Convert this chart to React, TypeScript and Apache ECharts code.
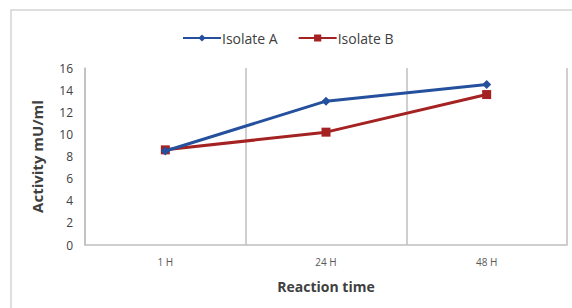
import React, { useEffect, useRef } from "react";
import * as echarts from "echarts";

const categories = ["1 H", "24 H", "48 H"];
const isolateA = [8.5, 13.0, 14.5];
const isolateB = [8.6, 10.2, 13.6];
const yTicks = { min: 0, max: 16, interval: 2 };

export default function App() {
  const ref = useRef<HTMLDivElement>(null);
  useEffect(() => {
    if (!ref.current) return;
    const chart = echarts.init(ref.current, undefined, { renderer: "svg" });
    const font = "'Open Sans', 'Liberation Sans', sans-serif";
    chart.setOption({
      animation: false,
      backgroundColor: "#ffffff",
      graphic: [
        {
          type: "rect",
          shape: { x: 11, y: 10, width: 580, height: 320 },
          style: { fill: "none", stroke: "#d4d4d4", lineWidth: 1.5 },
          silent: true,
        },
      ],
      legend: {
        top: 26,
        left: 177,
        itemWidth: 38,
        itemHeight: 9,
        itemGap: 20,
        textStyle: { fontFamily: font, fontSize: 14, color: "#404040", padding: [0, 0, 0, -4] },
        data: ["Isolate A", "Isolate B"],
      },
      grid: { left: 85, right: 5, top: 68, bottom: 63, containLabel: false },
      xAxis: {
        type: "category",
        data: categories,
        boundaryGap: true,
        name: "Reaction time",
        nameLocation: "middle",
        nameGap: 34,
        nameTextStyle: { fontFamily: font, fontSize: 14, fontWeight: "bold", color: "#404040" },
        axisLine: { show: true, lineStyle: { color: "#bfbfbf", width: 1.5 } },
        axisTick: { show: false },
        axisLabel: { fontFamily: font, fontSize: 10, color: "#595959", margin: 12 },
        splitLine: { show: true, lineStyle: { color: "#bfbfbf", width: 1.5 } },
      },
      yAxis: {
        type: "value",
        min: yTicks.min,
        max: yTicks.max,
        interval: yTicks.interval,
        name: "Activity mU/ml",
        nameLocation: "middle",
        nameGap: 41,
        nameTextStyle: { fontFamily: font, fontSize: 15, fontWeight: "bold", color: "#404040" },
        axisLine: { show: true, lineStyle: { color: "#bfbfbf", width: 1.5 } },
        axisTick: { show: false },
        axisLabel: { fontFamily: font, fontSize: 12, color: "#404040", margin: 12 },
        splitLine: { show: false },
      },
      series: [
        {
          name: "Isolate A",
          type: "line",
          data: isolateA,
          symbol: "diamond",
          symbolSize: 9,
          itemStyle: { color: "#24509e" },
          lineStyle: { color: "#24509e", width: 3 },
          z: 3,
        },
        {
          name: "Isolate B",
          type: "line",
          data: isolateB,
          symbol: "rect",
          symbolSize: 9,
          itemStyle: { color: "#a52222" },
          lineStyle: { color: "#a52222", width: 3 },
          z: 2,
        },
      ],
    });
    return () => chart.dispose();
  }, []);
  return (
    <div
      ref={ref}
      style={{ position: "fixed", left: 0, top: 0, width: 572, height: 308 }}
    />
  );
}
